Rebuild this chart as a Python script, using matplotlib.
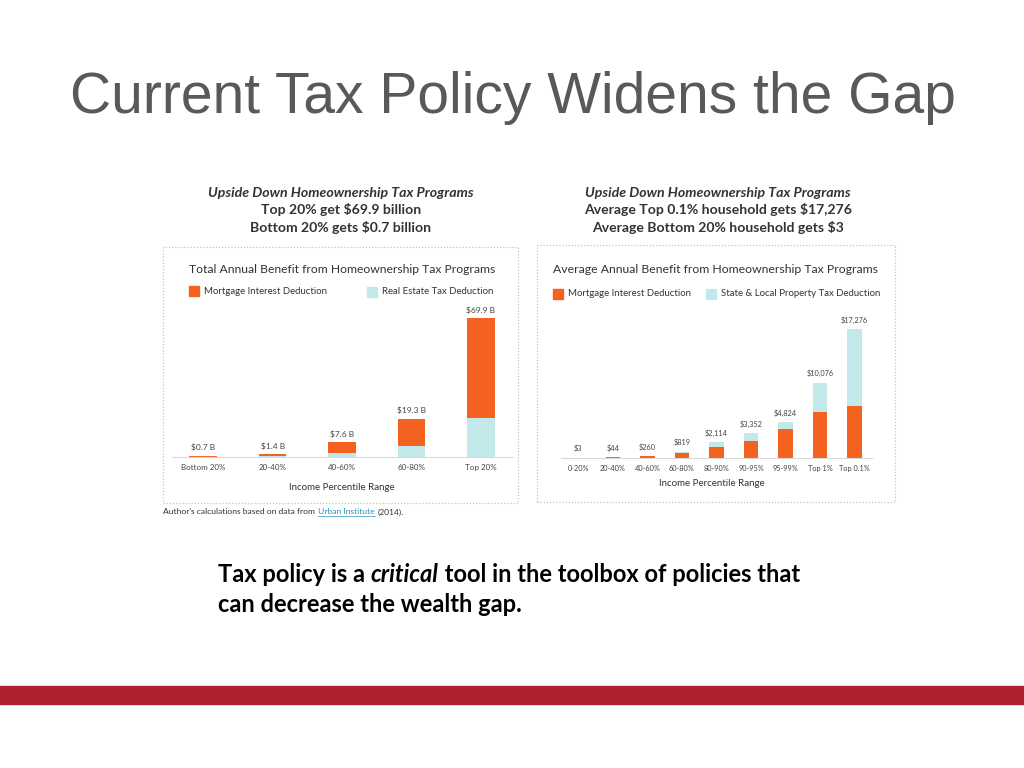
import numpy as np
import matplotlib.pyplot as plt
from matplotlib.patches import Rectangle

# left chart: total annual benefit, billions
left_cats = ["Bottom 20%", "20-40%", "40-60%", "60-80%", "Top 20%"]
left_mortgage = np.array([0.6, 1.1, 5.4, 13.7, 50.0])
left_realestate = np.array([0.1, 0.3, 2.2, 5.6, 19.9])
left_labels = ["$0.7 B", "$1.4 B", "$7.6 B", "$19.3 B", "$69.9 B"]

# right chart: average annual benefit per household, dollars
right_cats = ["0-20%", "20-40%", "40-60%", "60-80%", "80-90%", "90-95%",
              "95-99%", "Top 1%", "Top 0.1%"]
right_mortgage = np.array([2, 30, 200, 680, 1440, 2280, 3850, 6100, 6940])
right_property = np.array([1, 14, 60, 139, 674, 1072, 974, 3976, 10336])
right_labels = ["$3", "$44", "$260", "$819", "$2,114", "$3,352", "$4,824",
                "$10,076", "$17,276"]

ORANGE = "#F4621F"
AQUA = "#C3E8E9"
DARK = "#333333"
W, H = 1024, 768

fig = plt.figure(figsize=(W / 100, H / 100), dpi=100)
fig.patch.set_facecolor("white")


def fx(x):
    return x / W


def fy(y):
    return 1 - y / H


def ftext(x, y, s, **kw):
    return fig.text(fx(x), fy(y), s, **kw)


# slide title
ftext(70, 98, "Current Tax Policy Widens the Gap", fontsize=41,
      family="Liberation Sans", color="#595959", va="center")

# headlines above the charts
chart_font = "Lato"
for cx, lines in [(341, ["Top 20% get $69.9 billion", "Bottom 20% gets $0.7 billion"]),
                  (718, ["Average Top 0.1% household gets $17,276",
                         "Average Bottom 20% household gets $3"])]:
    ftext(cx, 193, "Upside Down Homeownership Tax Programs", fontsize=10.2,
          family=chart_font, weight="bold", style="italic", color=DARK,
          ha="center", va="center")
    for i, ln in enumerate(lines):
        ftext(cx, 210 + 17 * i, ln, fontsize=10.1, family=chart_font,
              weight="bold", color=DARK, ha="center", va="center")

# dotted frames
for (x0, y0, x1, y1) in [(163, 247, 518, 503), (537, 245, 895, 502)]:
    fig.patches.append(Rectangle((fx(x0), fy(y1)), fx(x1 - x0), (y1 - y0) / H,
                                 transform=fig.transFigure, fill=False,
                                 edgecolor="#cbc4ae", linestyle=(0, (1, 1.5)),
                                 linewidth=0.9))

# chart titles and legends
ftext(189, 269, "Total Annual Benefit from Homeownership Tax Programs",
      fontsize=8.75, family=chart_font, color=DARK, va="center")
ftext(553, 269, "Average Annual Benefit from Homeownership Tax Programs",
      fontsize=8.8, family=chart_font, color=DARK, va="center")


def legend_item(x, y, color, label):
    fig.patches.append(Rectangle((fx(x), fy(y + 5)), 10 / W, 10 / H,
                                 transform=fig.transFigure, color=color))
    ftext(x + 15, y, label, fontsize=6.9, family=chart_font, color=DARK,
          va="center")


legend_item(189, 291, ORANGE, "Mortgage Interest Deduction")
legend_item(367, 292, AQUA, "Real Estate Tax Deduction")
legend_item(553, 294, ORANGE, "Mortgage Interest Deduction")
legend_item(706, 294, AQUA, "State & Local Property Tax Deduction")


def style_axes(ax):
    for side in ["top", "right", "left"]:
        ax.spines[side].set_visible(False)
    ax.spines["bottom"].set_color("#d9d9d9")
    ax.spines["bottom"].set_linewidth(0.8)
    ax.set_yticks([])
    ax.tick_params(axis="x", length=0, pad=5, labelsize=5.8, labelcolor="#444444")
    for t in ax.get_xticklabels():
        t.set_family(chart_font)
    ax.set_facecolor("none")


# left chart
axl = fig.add_axes([fx(172), fy(457), 340 / W, 157 / H])
xl = np.arange(len(left_cats))
axl.bar(xl, left_realestate, width=0.4, color=AQUA)
axl.bar(xl, left_mortgage, width=0.4, bottom=left_realestate, color=ORANGE)
for xi, tot, lab in zip(xl, left_mortgage + left_realestate, left_labels):
    axl.text(xi, tot + 2.2, lab, ha="center", va="bottom", fontsize=6,
             family=chart_font, color="#444444")
axl.set_xlim(-0.45, 4.45)
axl.set_ylim(0, 79.1)
axl.set_xticks(xl)
axl.set_xticklabels(left_cats)
style_axes(axl)
ftext(342, 487, "Income Percentile Range", fontsize=7, family=chart_font,
      color=DARK, ha="center", va="center")

# right chart
axr = fig.add_axes([fx(561), fy(457.7), 311 / W, 147.7 / H])
xr = np.arange(len(right_cats))
axr.bar(xr, right_mortgage, width=0.42, color=ORANGE)
axr.bar(xr, right_property, width=0.42, bottom=right_mortgage, color=AQUA)
for xi, tot, lab in zip(xr, right_mortgage + right_property, right_labels):
    axr.text(xi, tot + 700, lab, ha="center", va="bottom", fontsize=5.3,
             family=chart_font, color="#444444")
axr.set_xlim(-0.5, 8.5)
axr.set_ylim(0, 19826)
axr.set_xticks(xr)
axr.set_xticklabels(right_cats)
style_axes(axr)
for t in axr.get_xticklabels():
    t.set_fontsize(5.3)
ftext(712, 484, "Income Percentile Range", fontsize=7, family=chart_font,
      color=DARK, ha="center", va="center")

# source note with link-coloured part
renderer = fig.canvas.get_renderer()
x = 163
for part, col, ul, gap in [("Author's calculations based on data from", "#333333", False, 3),
                           ("Urban Institute", "#2a8fc0", True, 3),
                           ("(2014).", "#333333", False, 0)]:
    t = ftext(x, 512, part, fontsize=6.1, family=chart_font, color=col,
              va="center")
    bb = t.get_window_extent(renderer)
    if ul:
        fig.lines.append(plt.Line2D([bb.x0 / W, bb.x1 / W], [fy(516), fy(516)],
                                    transform=fig.transFigure, color=col,
                                    linewidth=0.5))
    x += bb.width + gap

# body text
body_font = "Lato"
x = 218
for part, st in [("Tax policy is a ", "normal"), ("critical", "italic"),
                 (" tool in the toolbox of policies that", "normal")]:
    t = ftext(x, 574, part, fontsize=17, family=body_font, weight="bold",
              style=st, color="black", va="center")
    x += t.get_window_extent(renderer).width
ftext(218, 604, "can decrease the wealth gap.", fontsize=17, family=body_font,
      weight="bold", color="black", va="center")

# red band at bottom
fig.patches.append(Rectangle((0, fy(704)), 1, 18 / H, transform=fig.transFigure,
                             color="#B01F2F"))

fig.savefig("out.png", dpi=100)
